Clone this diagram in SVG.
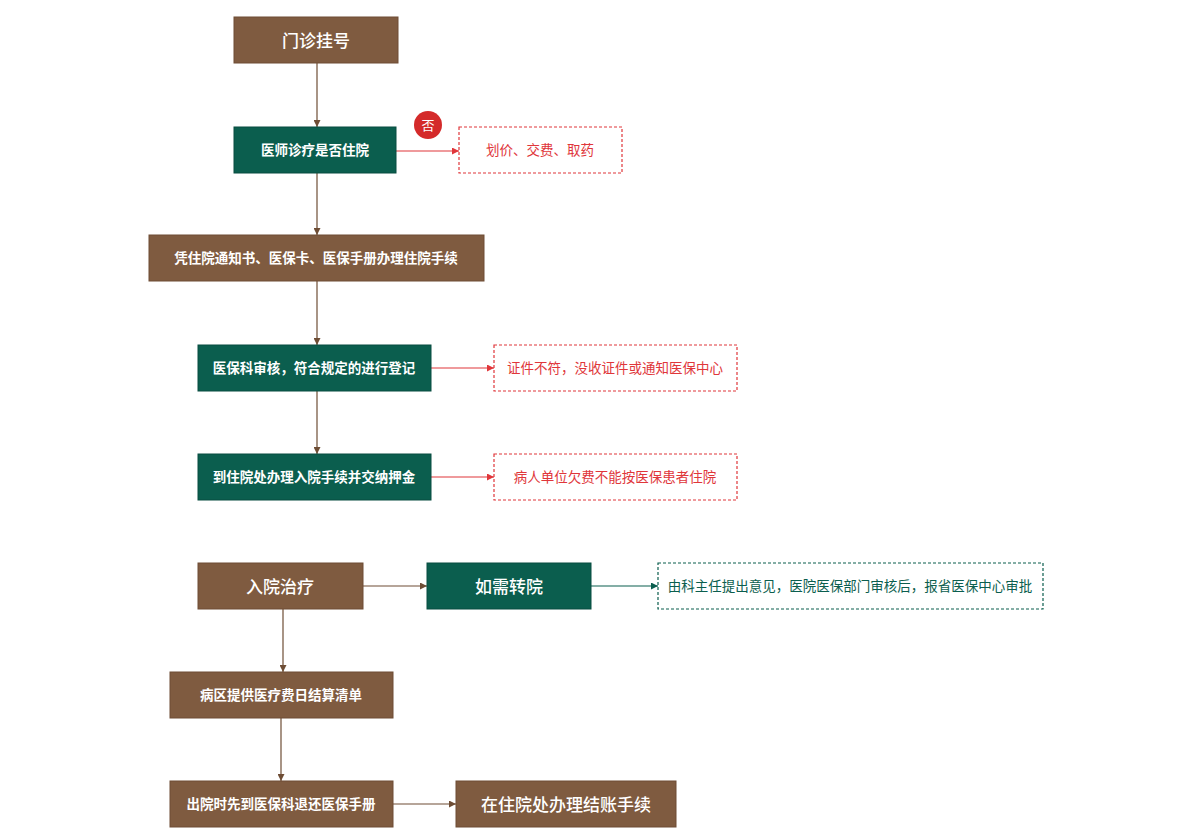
<svg xmlns="http://www.w3.org/2000/svg" width="1190" height="840" viewBox="0 0 1190 840">
<defs>
<style>
.br{fill:#7f5b40;stroke:#6e4d35;stroke-width:1}
.gr{fill:#0b5e4e;stroke:#094c40;stroke-width:1}
.dr{fill:#fff;stroke:#e0363a;stroke-width:1.2;stroke-dasharray:3 2}
.dg{fill:#fff;stroke:#0b5e4e;stroke-width:1.2;stroke-dasharray:3 2}
text{font-family:"Noto Sans CJK SC","Noto Sans",sans-serif;text-anchor:middle;dominant-baseline:central}
.tl{fill:#fff;font-size:17px;font-weight:500}
.tm{fill:#fff;font-size:13.5px;font-weight:bold}
.tr{fill:#e0363a;font-size:13.5px}
.tg{fill:#0b5e4e;font-size:13.5px}
.cb{stroke:#6e4d35;stroke-width:1.2;fill:none}
.cr{stroke:#e0363a;stroke-width:1.2;fill:none}
.cg{stroke:#0b5e4e;stroke-width:1.2;fill:none}
</style>
<marker id="ab" viewBox="0 0 10 10" refX="10" refY="5" markerWidth="7" markerHeight="7" orient="auto" markerUnits="userSpaceOnUse"><path d="M0,0L10,5L0,10z" fill="#6e4d35"/></marker>
<marker id="ar" viewBox="0 0 10 10" refX="10" refY="5" markerWidth="7" markerHeight="7" orient="auto" markerUnits="userSpaceOnUse"><path d="M0,0L10,5L0,10z" fill="#e0363a"/></marker>
<marker id="ag" viewBox="0 0 10 10" refX="10" refY="5" markerWidth="7" markerHeight="7" orient="auto" markerUnits="userSpaceOnUse"><path d="M0,0L10,5L0,10z" fill="#0b5e4e"/></marker>
</defs>
<rect width="1190" height="840" fill="#fff"/>
<g id="connectors">
<line class="cb" x1="317" y1="63" x2="317" y2="127" marker-end="url(#ab)"/>
<line class="cb" x1="317" y1="173" x2="317" y2="235" marker-end="url(#ab)"/>
<line class="cb" x1="317" y1="281" x2="317" y2="345" marker-end="url(#ab)"/>
<line class="cb" x1="317" y1="391" x2="317" y2="454" marker-end="url(#ab)"/>
<line class="cr" x1="396" y1="151" x2="459" y2="151" marker-end="url(#ar)"/>
<line class="cr" x1="431" y1="368" x2="494" y2="368" marker-end="url(#ar)"/>
<line class="cr" x1="431" y1="477" x2="494" y2="477" marker-end="url(#ar)"/>
<line class="cb" x1="363" y1="586" x2="427" y2="586" marker-end="url(#ab)"/>
<line class="cg" x1="591" y1="586" x2="658" y2="586" marker-end="url(#ag)"/>
<line class="cb" x1="283" y1="609" x2="283" y2="672" marker-end="url(#ab)"/>
<line class="cb" x1="281" y1="718" x2="281" y2="781" marker-end="url(#ab)"/>
<line class="cb" x1="393" y1="804" x2="456" y2="804" marker-end="url(#ab)"/>
</g>
<g id="n1"><rect class="br" x="234" y="17" width="164" height="46"/><text class="tl" x="316" y="39">门诊挂号</text></g>
<g id="n2"><rect class="gr" x="234" y="127" width="162" height="46"/><text class="tm" x="315" y="149">医师诊疗是否住院</text></g>
<g id="no"><circle cx="428" cy="125" r="14" fill="#d42a2a"/><text x="428" y="124" fill="#fff" font-size="13">否</text></g>
<g id="n2b"><rect class="dr" x="459" y="127" width="163" height="46"/><text class="tr" x="540" y="149">划价、交费、取药</text></g>
<g id="n3"><rect class="br" x="149" y="235" width="335" height="46"/><text class="tm" x="316" y="257">凭住院通知书、医保卡、医保手册办理住院手续</text></g>
<g id="n4"><rect class="gr" x="198" y="345" width="233" height="46"/><text class="tm" x="314" y="367">医保科审核，符合规定的进行登记</text></g>
<g id="n4b"><rect class="dr" x="494" y="345" width="243" height="46"/><text class="tr" x="615" y="367">证件不符，没收证件或通知医保中心</text></g>
<g id="n5"><rect class="gr" x="198" y="454" width="233" height="46"/><text class="tm" x="314" y="476">到住院处办理入院手续并交纳押金</text></g>
<g id="n5b"><rect class="dr" x="494" y="454" width="243" height="46"/><text class="tr" x="615" y="476">病人单位欠费不能按医保患者住院</text></g>
<g id="n6"><rect class="br" x="198" y="563" width="165" height="46"/><text class="tl" x="280" y="585">入院治疗</text></g>
<g id="n7"><rect class="gr" x="427" y="563" width="164" height="46"/><text class="tl" x="509" y="585">如需转院</text></g>
<g id="n7b"><rect class="dg" x="658" y="563" width="385" height="46"/><text class="tg" x="850" y="585">由科主任提出意见，医院医保部门审核后，报省医保中心审批</text></g>
<g id="n8"><rect class="br" x="170" y="672" width="223" height="46"/><text class="tm" x="281" y="694">病区提供医疗费日结算清单</text></g>
<g id="n9"><rect class="br" x="170" y="781" width="223" height="46"/><text class="tm" x="281" y="803">出院时先到医保科退还医保手册</text></g>
<g id="n10"><rect class="br" x="456" y="781" width="220" height="46"/><text class="tl" x="566" y="803">在住院处办理结账手续</text></g>
</svg>
